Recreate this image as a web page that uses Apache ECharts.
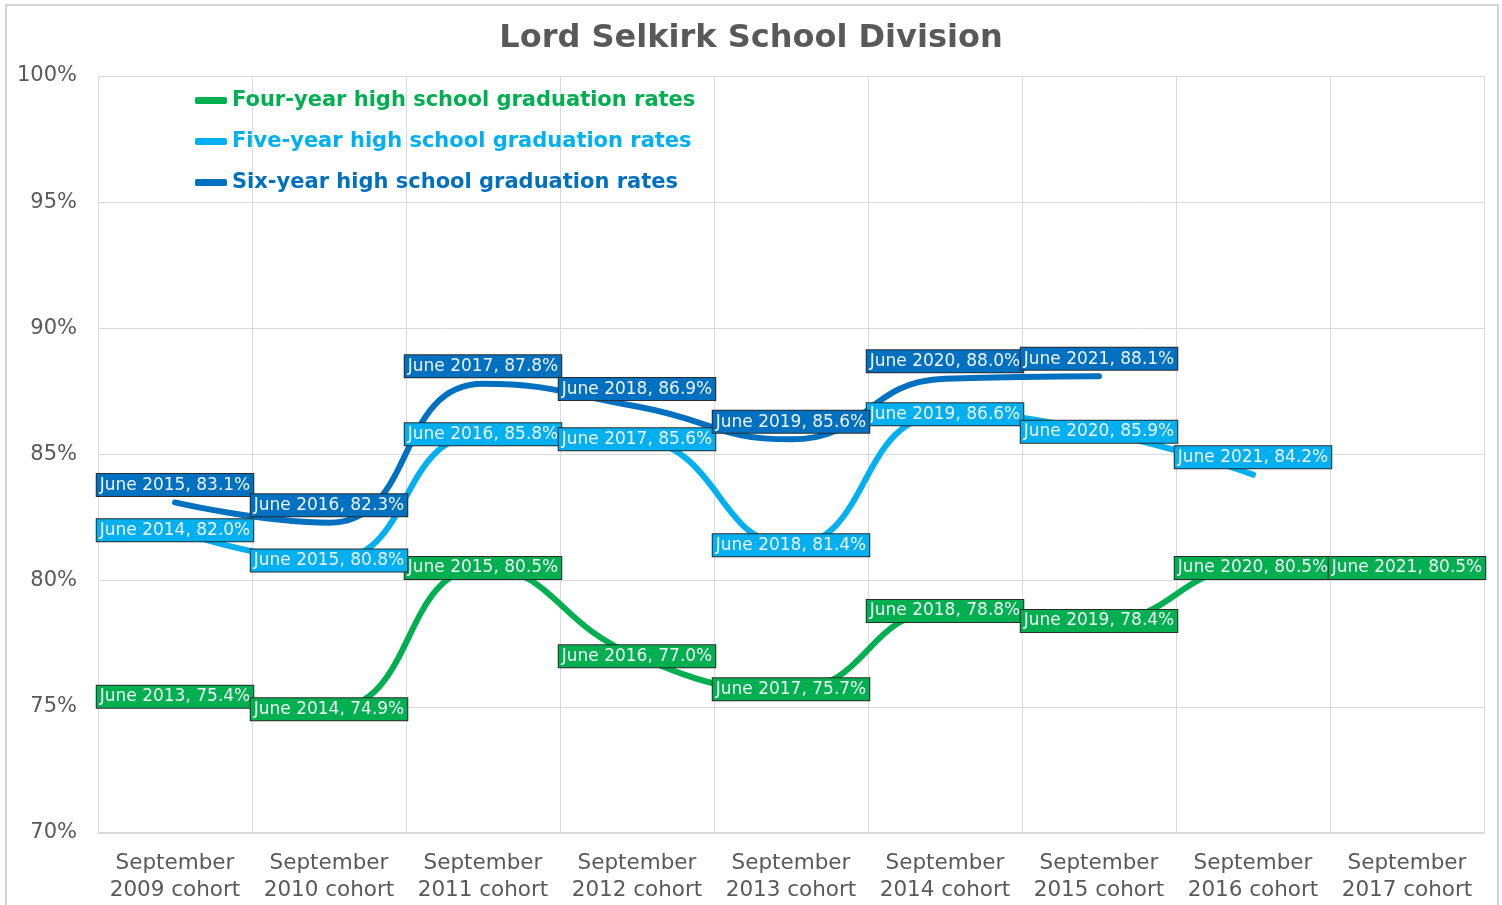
<!DOCTYPE html>
<html><head><meta charset="UTF-8">
<title>Lord Selkirk School Division</title>
<script src="https://cdn.jsdelivr.net/npm/echarts@6/dist/echarts.min.js"></script>
<style>
    *{ padding:0; margin:0; }
    html,body{ width:1502px; height:905px; background:#fff; overflow:hidden; }
    #frame{ position:absolute; left:5px; top:4px; width:1490px; height:930px; border:2px solid #d4d4d4; }
    #main{ position:absolute; left:0; top:0; width:1502px; height:905px; }
</style>
</head>
<body>
<div id="frame"></div>
<div id="main"></div>
<script>
// cohorts on the x axis
var cohorts = ['September\n2009 cohort','September\n2010 cohort','September\n2011 cohort',
    'September\n2012 cohort','September\n2013 cohort','September\n2014 cohort',
    'September\n2015 cohort','September\n2016 cohort','September\n2017 cohort'];

// four-year rates (graduated in June of ...)
var fourYear = [75.4, 74.9, 80.5, 77.0, 75.7, 78.8, 78.4, 80.5, 80.5];
var fourYearJune = ['June 2013','June 2014','June 2015','June 2016','June 2017','June 2018','June 2019','June 2020','June 2021'];

// five-year rates
var fiveYear = [82.0, 80.8, 85.8, 85.6, 81.4, 86.6, 85.9, 84.2, null];
var fiveYearJune = ['June 2014','June 2015','June 2016','June 2017','June 2018','June 2019','June 2020','June 2021', ''];

// six-year rates
var sixYear = [83.1, 82.3, 87.8, 86.9, 85.6, 88.0, 88.1, null, null];
var sixYearJune = ['June 2015','June 2016','June 2017','June 2018','June 2019','June 2020','June 2021', '', ''];

var names = ['Four-year high school graduation rates','Five-year high school graduation rates','Six-year high school graduation rates'];
var colors = ['#00B050','#00B0F0','#0070C0'];

function lbl(june, pos, color){
    return {
        show: true,
        position: pos,
        distance: 6,
        fontFamily: 'DejaVu Sans',
        fontSize: 17,
        color: '#f2f2f2',
        backgroundColor: color,
        borderColor: '#2b2b2b',
        borderWidth: 1,
        padding: [3, 3, 2, 3],
        formatter: function(p){ return june[p.dataIndex] + ', ' + p.value.toFixed(1) + '%'; }
    };
}

function mkSeries(i, data, june, pos, topIdx){
    return {
        name: names[i],
        type: 'line',
        data: data.map(function(v, k){
            return (k === topIdx) ? { value: v, label: { position: 'top' } } : v;
        }),
        smooth: 0.5,
        symbol: 'circle',
        symbolSize: 1,
        showSymbol: true,
        itemStyle: { color: colors[i] },
        lineStyle: { width: 6, color: colors[i], cap: 'round' },
        label: lbl(june, pos, colors[i]),
        emphasis: { disabled: true }
    };
}

var chart = echarts.init(document.getElementById('main'));
chart.setOption({
    animation: false,
    textStyle: { fontFamily: 'DejaVu Sans' },
    title: {
        text: 'Lord Selkirk School Division',
        left: 'center',
        top: 18,
        textStyle: { fontFamily: 'DejaVu Sans', fontSize: 32, fontWeight: 'bold', color: '#595959' }
    },
    legend: {
        orient: 'vertical',
        left: 190,
        top: 85,
        itemGap: 20,
        itemWidth: 32,
        itemHeight: 7,
        icon: 'roundRect',
        data: names.map(function(n, i){ return { name: n, textStyle: { color: colors[i] } }; }),
        textStyle: { fontFamily: 'DejaVu Sans', fontSize: 21, fontWeight: 'bold' }
    },
    grid: { left: 98, right: 18, top: 76, bottom: 72 },
    xAxis: {
        type: 'category',
        data: cohorts,
        boundaryGap: true,
        axisLine: { lineStyle: { color: '#d9d9d9', width: 2 } },
        axisTick: { show: false },
        splitLine: { show: true, lineStyle: { color: '#d9d9d9', width: 1 } },
        axisLabel: { color: '#595959', fontSize: 21.5, lineHeight: 27, margin: 17, interval: 0 }
    },
    yAxis: {
        type: 'value',
        min: 70,
        max: 100,
        interval: 5,
        axisLine: { show: false },
        axisTick: { show: false },
        splitLine: { lineStyle: { color: '#d9d9d9', width: 1 } },
        axisLabel: { color: '#595959', fontSize: 21, margin: 21, formatter: '{value}%' }
    },
    series: [
        mkSeries(0, fourYear, fourYearJune, 'inside', -1),
        mkSeries(1, fiveYear, fiveYearJune, 'inside', 7),
        mkSeries(2, sixYear, sixYearJune, 'top', -1)
    ]
});
</script>
</body></html>
